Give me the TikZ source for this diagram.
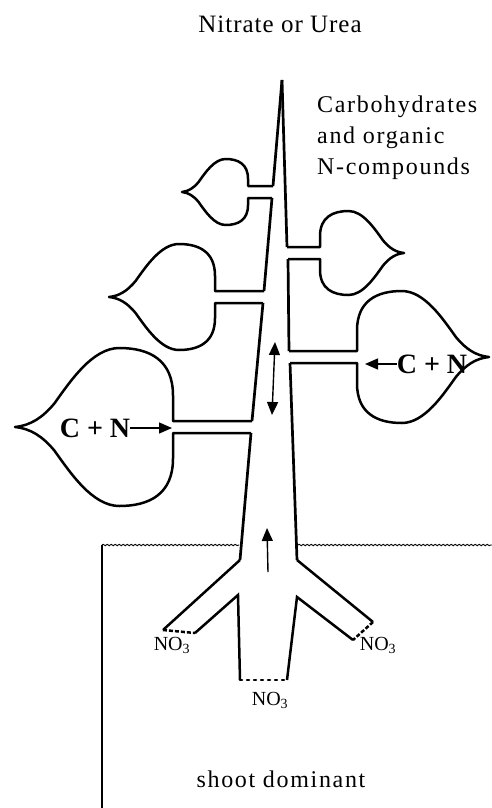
\documentclass[tikz,border=0pt]{standalone}
\usepackage{fontspec}
\setmainfont{Liberation Serif}
\newfontfamily\spacedfont[LetterSpace=7]{Liberation Serif}
\newfontfamily\titlefont[LetterSpace=4]{Liberation Serif}
\usetikzlibrary{arrows.meta,decorations.pathmorphing}

\tikzset{
	leafline/.style={line width=2.5pt, line join=round},
	stemline/.style={line width=2.7pt},
	rootline/.style={line width=2.5pt},
	tipend/.style={line width=2.5pt, dash pattern=on 4pt off 2pt},
	cutend/.style={line width=2.5pt, dash pattern=on 2pt off 5pt, line cap=round},
	flow/.style={line width=1.4pt, -{Triangle[length=13pt,width=11pt]}},
	flowboth/.style={line width=1.4pt, {Triangle[length=13pt,width=11pt]}-{Triangle[length=13pt,width=11pt]}},
	ground/.style={line width=0.9pt, decorate, decoration={snake, amplitude=0.7pt, segment length=4pt}},
	lbl/.style={font=\spacedfont\fontsize{24}{31}\selectfont, inner sep=0pt},
	cn/.style={font=\bfseries\fontsize{28}{32}\selectfont, inner sep=0pt},
	ion/.style={font=\fontsize{20}{22}\selectfont, inner sep=0pt}
}

\newcommand{\leaf}[7]{%
	\coordinate (#1u) at (#2,#5-6);
	\coordinate (#1d) at (#3,#5+6);
	\pgfmathsetmacro\leafw{#7*#6}
	\pgfmathsetmacro\leafgap{6/#6}
	\begin{scope}[shift={(#4,#5)}, x={(\leafw pt,0pt)}, y={(0pt,#6pt)}]
		\draw[leafline] (#1u) -- (0,\leafgap) -- (0,0.4)
			.. controls (0,0.85) and (0.3,1) .. (0.68,1)
			.. controls (1.02,1) and (1.3,0.58) .. (1.5,0.3)
			.. controls (1.65,0.12) and (1.8,0.02) .. (2,0)
			.. controls (1.8,-0.02) and (1.65,-0.12) .. (1.5,-0.3)
			.. controls (1.3,-0.58) and (1.02,-1) .. (0.68,-1)
			.. controls (0.3,-1) and (0,-0.85) .. (0,-0.4)
			-- (0,-\leafgap) -- (#1d);
	\end{scope}}

\begin{document}
\begin{tikzpicture}[x=1pt,y=-1pt]
	\useasboundingbox (0,0) rectangle (492,808);
	\coordinate (tip) at (282,80);
	\coordinate (lb) at (240,560);
	\coordinate (rb) at (297,560);

	\leaf{lt}{273}{272}{248}{192}{33}{-1}
	\leaf{lm}{264}{263}{215}{297}{53}{-1}
	\leaf{ll}{252}{251}{173}{427}{79}{-1}
	\leaf{rt}{287}{288}{320}{253}{42}{1}
	\leaf{rl}{289}{290}{357}{357}{66}{1}

	\draw[stemline] (tip) -- (ltu) (ltd) -- (lmu) (lmd) -- (llu) (lld) -- (lb);
	\draw[stemline] (tip) -- (rtu) (rtd) -- (rlu) (rld) -- (rb);

	\coordinate (lrt) at (163,630);
	\coordinate (lre) at (195,633);
	\coordinate (lfork) at (238,595);
	\coordinate (rrt) at (373,622);
	\coordinate (rre) at (353,640);
	\coordinate (rfork) at (297,597);
	\coordinate (cl) at (240,680);
	\coordinate (cr) at (287,680);
	\draw[rootline] (lb) -- (lrt);
	\draw[rootline] (lre) -- (lfork) -- (cl);
	\draw[rootline] (rb) -- (rrt);
	\draw[rootline] (rre) -- (rfork) -- (cr);
	\draw[tipend] (lrt) -- (lre);
	\draw[tipend] (rrt) -- (rre);
	\draw[cutend] (cl) -- (cr);

	\coordinate (gl) at (102,545);
	\coordinate (gb) at (102,808);
	\coordinate (gs) at (239,545);
	\coordinate (gr) at (298,545);
	\coordinate (ge) at (492,545);
	\draw[line width=1.8pt] (gl) -- (gb);
	\draw[ground] (gl) -- (gs);
	\draw[ground] (gr) -- (ge);

	\node[cn] (cnl) at (95,428) {C + N};
	\coordinate (cnlend) at (172,428);
	\draw[flow] (cnl.east) -- (cnl.east -| cnlend);
	\node[cn] (cnr) at (432,364) {C + N};
	\coordinate (cnrend) at (365,364);
	\draw[flow] (cnr.west) -- (cnr.west -| cnrend);

	\coordinate (upfrom) at (268,572);
	\coordinate (upto) at (267,528);
	\draw[flow] (upfrom) -- (upto);
	\coordinate (exa) at (275,342);
	\coordinate (exb) at (272,415);
	\draw[flowboth] (exa) -- (exb);

	\node[font=\titlefont\fontsize{25}{30}\selectfont, inner sep=0pt] (feed) at (280,24) {Nitrate or Urea};
	\node[lbl, align=left, anchor=north west] (export) at (317,96) {Carbohydrates\\and organic\\N-compounds};
	\node[ion] (nol) at (172,645) {NO\textsubscript{3}};
	\node[ion] (nor) at (378,645) {NO\textsubscript{3}};
	\node[ion] (noc) at (270,700) {NO\textsubscript{3}};
	\node[lbl] (mode) at (281,779) {shoot dominant};
\end{tikzpicture}
\end{document}
